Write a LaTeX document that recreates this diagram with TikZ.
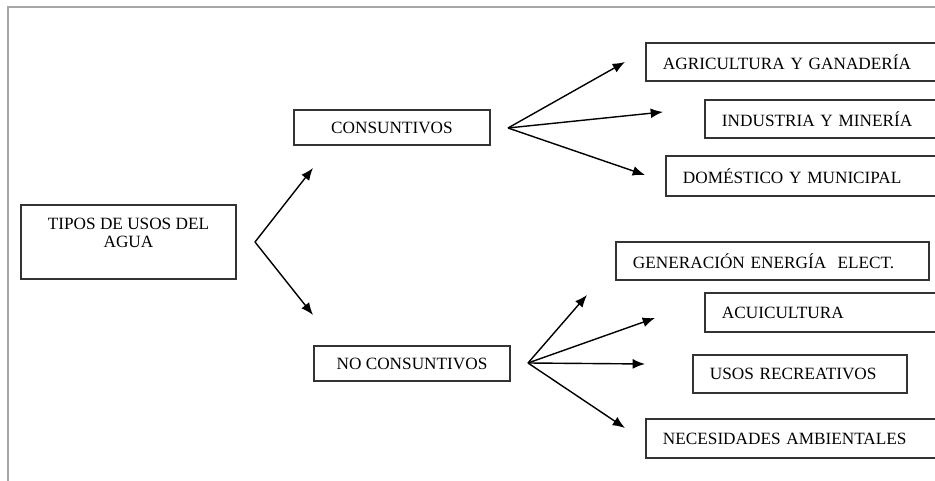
\documentclass[tikz,border=0pt]{standalone}
\usepackage{fontspec}
\setmainfont{Liberation Serif}
\usetikzlibrary{arrows.meta}

\tikzset{
  caja/.style={draw=black!80, line width=1.1pt, inner sep=0pt,
    font=\fontsize{9.8}{10.24}\selectfont},
  rama/.style={caja, anchor=west, minimum height=0.77cm, align=left, inner xsep=0.34cm},
  flecha/.style={line width=0.8pt, -{Latex[length=7pt,width=5.6pt]}}
}

\begin{document}
\begin{tikzpicture}
    \clip (0,0) rectangle (18.7,9.62);
    % marco de la pagina
    \draw[line width=1.2pt, black!35] (0.16,0) -- (0.16,9.48) -- (18.8,9.48);

    \node [caja, align=center, minimum width=4.3cm, minimum height=1.48cm, anchor=west]
      (tipos) at (0.40,4.78) {TIPOS DE USOS DEL\\AGUA\\\mbox{}};
    \node [caja, minimum width=3.92cm, minimum height=0.70cm] (cons) at (7.84,7.07) {CONSUNTIVOS};
    \node [caja, minimum width=3.92cm, minimum height=0.70cm] (nocons) at (8.24,2.35) {NO CONSUNTIVOS};

    \node [rama, text width=5.32cm] (agri) at (12.90,8.38) {AGRICULTURA Y GANADERÍA};
    \node [rama, text width=4.14cm] (indus) at (14.08,7.24) {INDUSTRIA Y MINERÍA};
    \node [rama, text width=4.92cm, minimum height=0.80cm] (domes) at (13.30,6.10) {DOMÉSTICO Y MUNICIPAL};

    \node [rama, text width=5.58cm] (gener) at (12.30,4.40) {GENERACIÓN ENERGÍA~~ELECT.};
    \node [rama, text width=4.14cm] (acui) at (14.08,3.37) {ACUICULTURA};
    \node [rama, text width=3.60cm] (usos) at (13.84,2.14) {USOS RECREATIVOS};
    \node [rama, text width=5.32cm] (neces) at (12.90,0.85) {NECESIDADES AMBIENTALES};

    % puntos de partida y puntas de las flechas
    \coordinate (jTipos) at (5.10,4.78);
    \coordinate (jCons) at (10.16,7.06);
    \coordinate (jNocons) at (10.56,2.36);
    \coordinate (toCons) at (6.26,6.26);
    \coordinate (toNocons) at (6.26,3.32);
    \coordinate (toAgri) at (12.50,8.38);
    \coordinate (toIndus) at (13.26,7.38);
    \coordinate (toDomes) at (12.90,6.12);
    \coordinate (toGener) at (11.74,3.72);
    \coordinate (toAcui) at (13.10,3.26);
    \coordinate (toUsos) at (12.90,2.34);
    \coordinate (toNeces) at (12.50,1.06);

    \foreach \t in {toCons,toNocons}
      \draw[flecha] (jTipos) -- (\t);
    \foreach \t in {toAgri,toIndus,toDomes}
      \draw[flecha] (jCons) -- (\t);
    \foreach \t in {toGener,toAcui,toUsos,toNeces}
      \draw[flecha] (jNocons) -- (\t);
\end{tikzpicture}
\end{document}
